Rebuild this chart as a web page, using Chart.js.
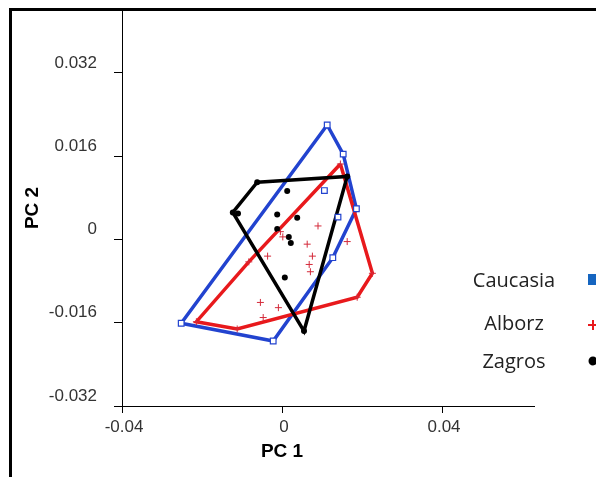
<!DOCTYPE html>
<html lang="en">

<head>
    <meta charset="UTF-8">
    <title>PCA scatter - Caucasia, Alborz, Zagros</title>
    <script src="https://cdn.jsdelivr.net/npm/chart.js@4.4.1/dist/chart.umd.min.js"></script>
    <style>
        html, body { margin: 0; padding: 0; background: #fff; }
        #wrap { width: 596px; height: 477px; }
    </style>
</head>

<body>
    <div id="wrap"><canvas id="chart" width="596" height="477"></canvas></div>
    <script>
        // group names (legend order)
        const groups = ['Caucasia', 'Alborz', 'Zagros'];

        // Caucasia (PC 1 / PC 2 scores)
        const cauX = [0.0113, 0.0153, 0.0186, 0.0127, -0.0022, -0.0252, 0.0106, 0.0140];
        const cauY = [0.0220, 0.0164, 0.0059, -0.0035, -0.0195, -0.0161, 0.0094, 0.0043];
        const cauHull = [0, 1, 2, 3, 4, 5];

        // Alborz
        const albX = [0.0146, 0.0226, 0.0188, -0.0112, -0.0214, -0.0083,
            0.0090, -0.0004, 0.0002, 0.0063, 0.0163, 0.0076, -0.0036, 0.0068, 0.0071, -0.0054, -0.0009, -0.0047];
        const albY = [0.0145, -0.0065, -0.0111, -0.0172, -0.0158, -0.0043,
            0.0026, 0.0015, 0.0005, -0.0009, -0.0004, -0.0032, -0.0032, -0.0048, -0.0062, -0.0121, -0.0131, -0.0150];
        const albHull = [0, 1, 2, 3, 4, 5];

        // Zagros
        const zagX = [-0.0062, 0.0163, 0.0055, -0.0123, 0.0013, -0.0012, 0.0038, -0.0012, 0.0017, 0.0022, 0.0007, -0.0110];
        const zagY = [0.0110, 0.0121, -0.0176, 0.0052, 0.0093, 0.0048, 0.0042, 0.0020, 0.0005, -0.0007, -0.0073, 0.0050];
        const zagHull = [0, 1, 2, 3];

        // tick labels
        const xTicks = [-0.04, 0, 0.04];
        const xTickLabels = ['-0.04', '0', '0.04'];
        const yTicks = [-0.032, -0.016, 0, 0.016, 0.032];
        const yTickLabels = ['-0.032', '-0.016', '0', '0.016', '0.032'];

        const BLUE = '#2243cf';
        const RED = '#e8191c';
        const BLACK = '#000000';

        const pts = (xs, ys) => xs.map((x, i) => ({ x: x, y: ys[i] }));
        const hull = (xs, ys, idx) => idx.concat([idx[0]]).map(i => ({ x: xs[i], y: ys[i] }));

        // frame, x-axis title and the legend on the right
        const extras = {
            id: 'extras',
            afterDraw(chart) {
                const ctx = chart.ctx;
                const xs = chart.scales.x;
                ctx.save();
                ctx.fillStyle = '#000';
                ctx.fillRect(9, 8, 587, 3);
                ctx.fillRect(9, 8, 3, 469);

                ctx.font = 'bold 19px "Liberation Sans", Arial, sans-serif';
                ctx.textAlign = 'center';
                ctx.textBaseline = 'middle';
                ctx.fillText('PC 1', xs.getPixelForValue(0), 452);

                const rows = [280, 323, 361];
                ctx.font = '20px "Open Sans", sans-serif';
                ctx.fillStyle = '#222';
                ctx.textBaseline = 'alphabetic';
                groups.forEach((g, i) => {
                    ctx.fillText(g, 514, rows[i] + 7);
                });
                // markers
                ctx.fillStyle = '#1565c0';
                ctx.fillRect(588, rows[0] - 6, 10, 11);
                ctx.strokeStyle = RED;
                ctx.lineWidth = 2;
                ctx.beginPath();
                ctx.moveTo(588, rows[1] + 2); ctx.lineTo(598, rows[1] + 2);
                ctx.moveTo(593, rows[1] - 3); ctx.lineTo(593, rows[1] + 7);
                ctx.stroke();
                ctx.fillStyle = '#000';
                ctx.beginPath();
                ctx.arc(593, rows[2], 4.5, 0, Math.PI * 2);
                ctx.fill();
                ctx.restore();
            }
        };

        const canvas = document.getElementById('chart');
        const chart = new Chart(canvas, {
            type: 'scatter',
            data: {
                datasets: [
                    {
                        label: 'Zagros hull', data: hull(zagX, zagY, zagHull), showLine: true,
                        borderColor: BLACK, borderWidth: 3.5, pointRadius: 0, fill: false, order: 1
                    },
                    {
                        label: 'Alborz hull', data: hull(albX, albY, albHull), showLine: true,
                        borderColor: RED, borderWidth: 3.5, pointRadius: 0, fill: false, order: 2
                    },
                    {
                        label: 'Caucasia hull', data: hull(cauX, cauY, cauHull), showLine: true,
                        borderColor: BLUE, borderWidth: 3.5, pointRadius: 0, fill: false, order: 3
                    },
                    {
                        label: 'Caucasia', data: pts(cauX, cauY), pointStyle: 'rect', pointRadius: 4,
                        borderColor: BLUE, backgroundColor: '#fff', borderWidth: 1.2, order: 0
                    },
                    {
                        label: 'Alborz', data: pts(albX, albY), pointStyle: 'cross', pointRadius: 3.5,
                        borderColor: '#d42a3a', borderWidth: 1, order: 0
                    },
                    {
                        label: 'Zagros', data: pts(zagX, zagY), pointStyle: 'circle', pointRadius: 3,
                        borderColor: BLACK, backgroundColor: BLACK, borderWidth: 0, order: 0
                    }
                ]
            },
            options: {
                responsive: false,
                animation: false,
                layout: { padding: { left: 0, top: 10, right: 62, bottom: 0 } },
                plugins: {
                    legend: { display: false },
                    tooltip: { enabled: false }
                },
                scales: {
                    x: {
                        type: 'linear',
                        min: -0.04,
                        max: 0.063,
                        afterFit: s => { s.height = 71; s.paddingLeft = 0; s.paddingRight = 0; },
                        afterBuildTicks: s => { s.ticks = xTicks.map(v => ({ value: v })); },
                        grid: { drawOnChartArea: false, drawTicks: true, tickLength: 7, color: '#000' },
                        border: { display: true, color: '#000', width: 1 },
                        ticks: {
                            padding: 4,
                            labelOffset: 2,
                            color: '#333',
                            font: { family: '"Liberation Sans", Arial, sans-serif', size: 17 },
                            callback: (v, i) => xTickLabels[i]
                        }
                    },
                    y: {
                        type: 'linear',
                        min: -0.032,
                        max: 0.0441,
                        afterFit: s => { s.width = 122; s.paddingTop = 0; s.paddingBottom = 0; },
                        afterBuildTicks: s => { s.ticks = yTicks.map(v => ({ value: v })); },
                        grid: { drawOnChartArea: false, drawTicks: true, tickLength: 8, color: '#000' },
                        border: { display: true, color: '#000', width: 1 },
                        title: {
                            display: true,
                            text: 'PC 2',
                            color: '#000',
                            padding: { top: 21, bottom: 0 },
                            font: { family: '"Liberation Sans", Arial, sans-serif', size: 19, weight: 'bold' }
                        },
                        ticks: {
                            padding: 17,
                            labelOffset: -10,
                            color: '#333',
                            font: { family: '"Liberation Sans", Arial, sans-serif', size: 17 },
                            callback: (v, i) => yTickLabels[i]
                        }
                    }
                }
            },
            plugins: [extras]
        });
    </script>
</body>

</html>
